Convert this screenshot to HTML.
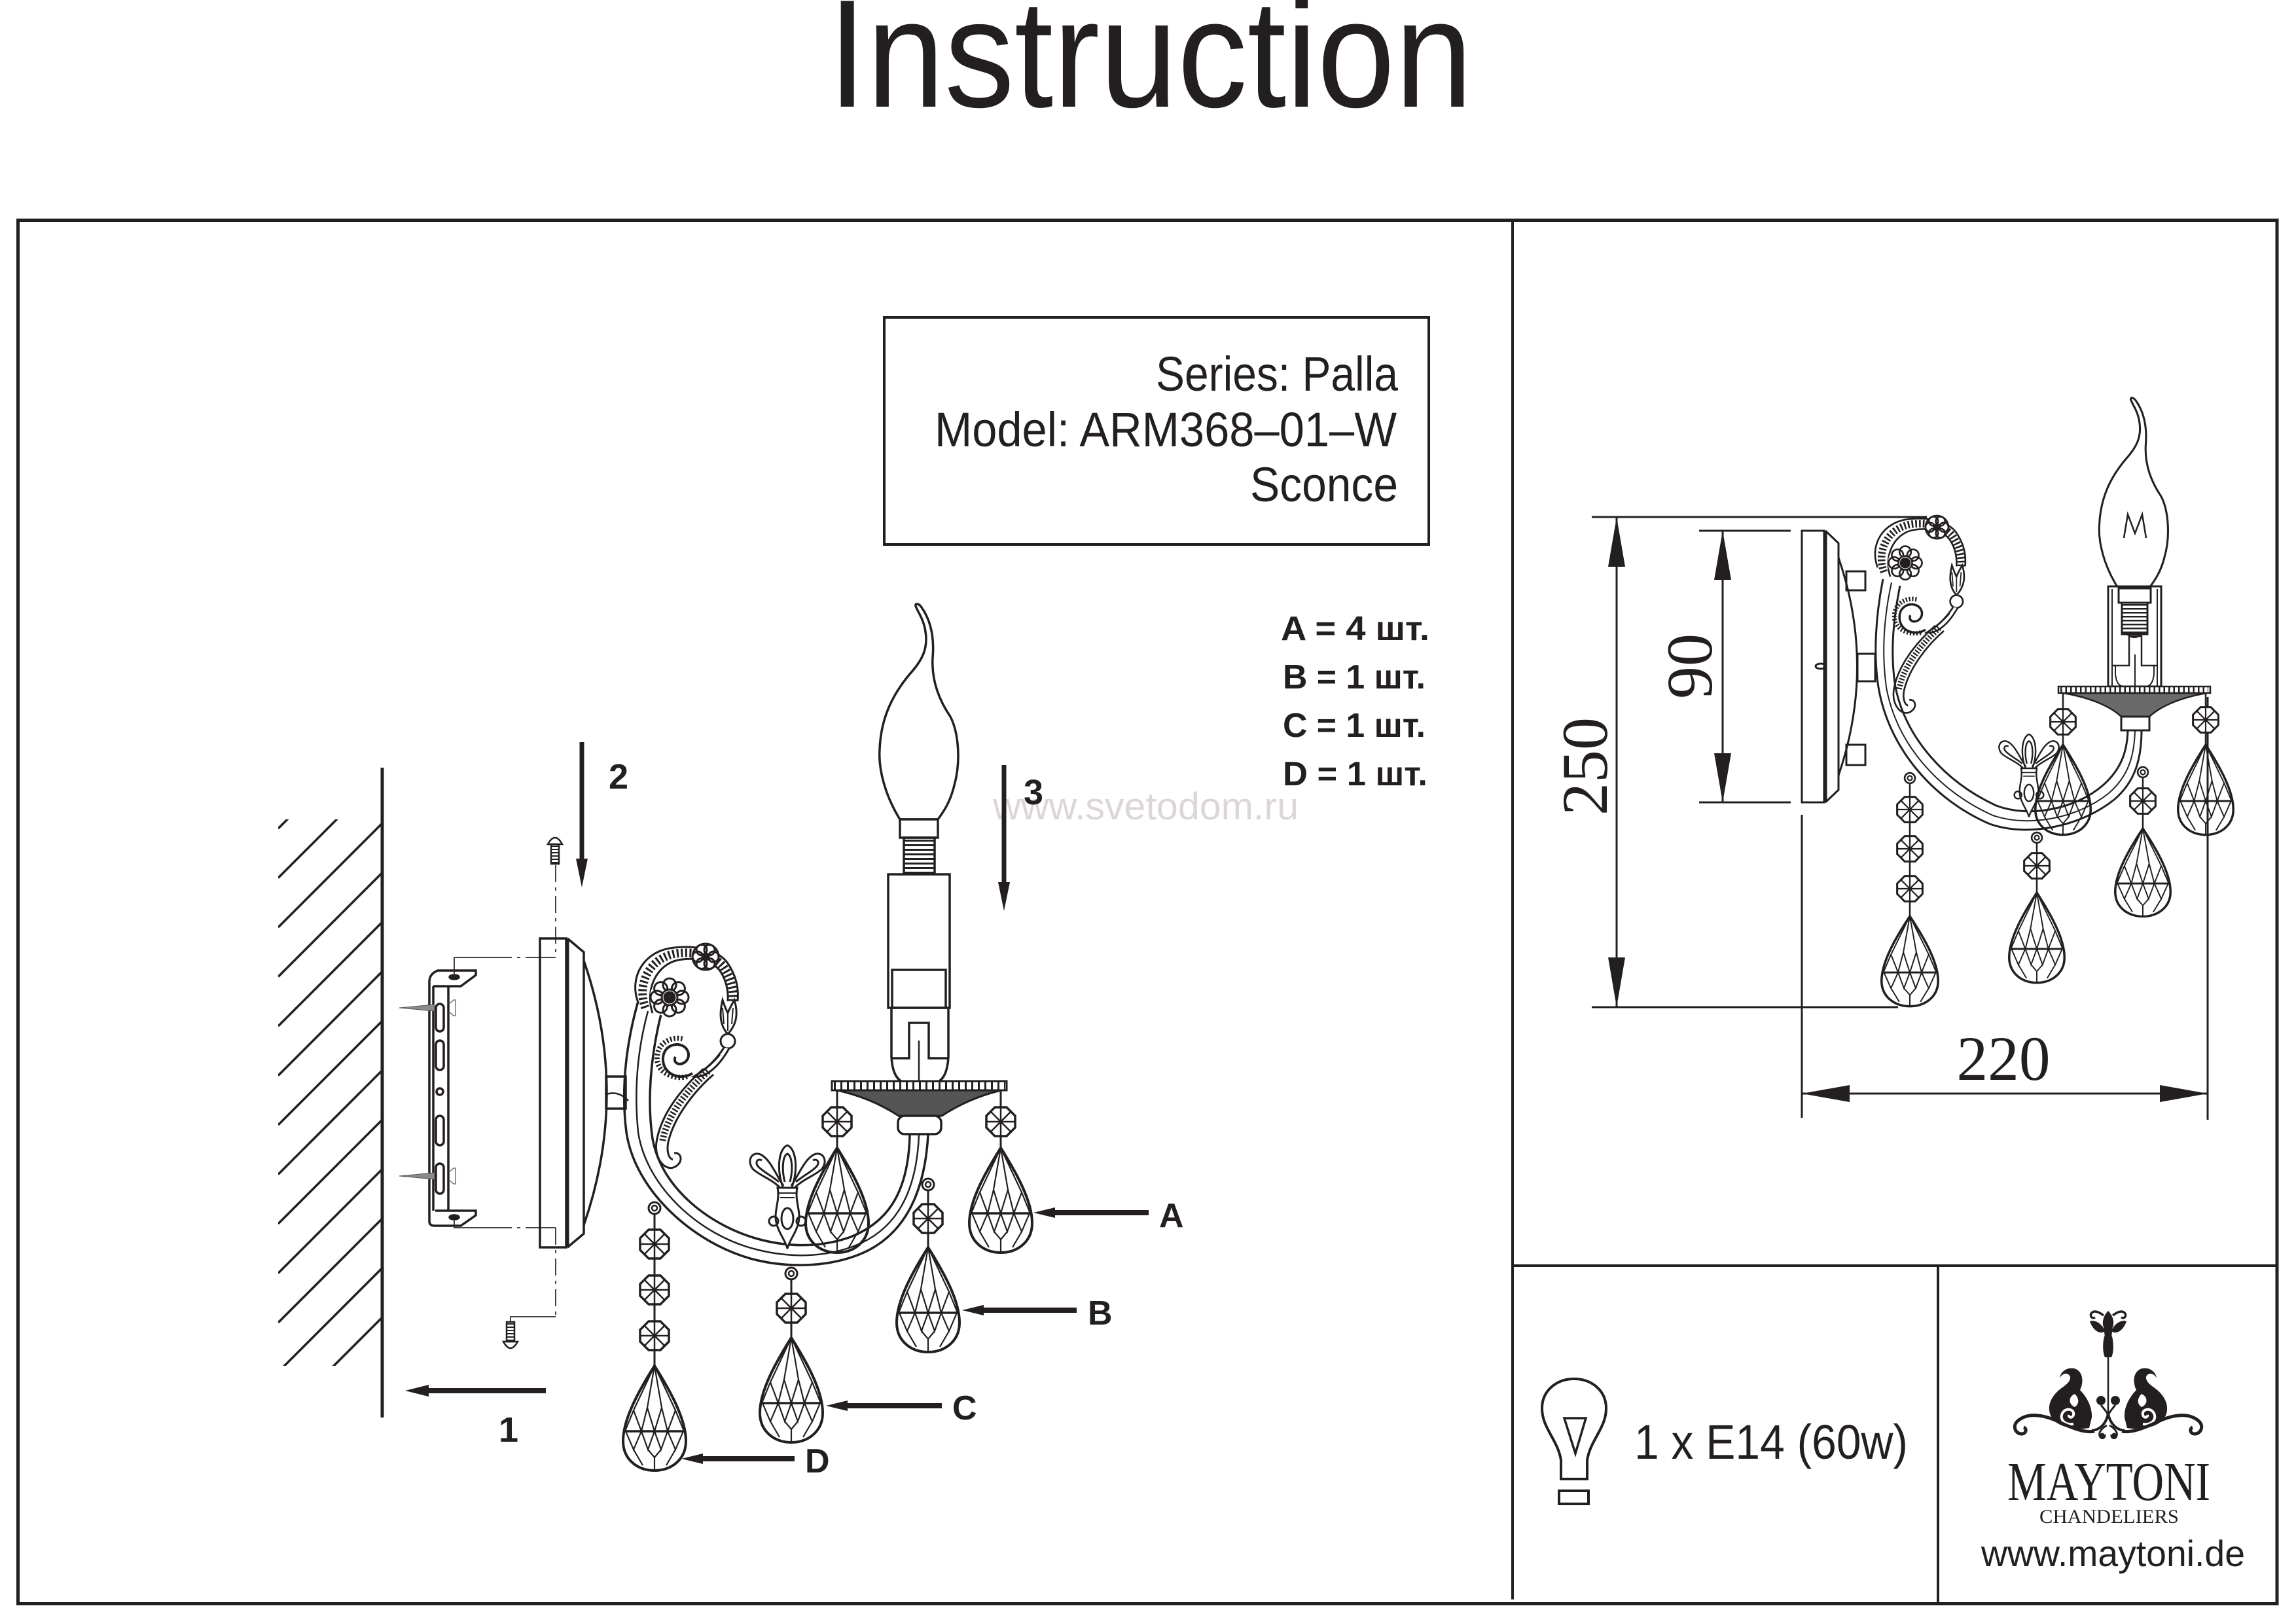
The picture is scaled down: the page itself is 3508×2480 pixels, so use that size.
<!DOCTYPE html>
<html><head><meta charset="utf-8">
<style>
html,body{margin:0;padding:0;background:#fff;width:3508px;height:2480px;overflow:hidden}
svg{display:block}
</style></head><body>
<svg xmlns="http://www.w3.org/2000/svg" width="3508" height="2480" viewBox="0 0 3508 2480">
<defs>
<clipPath id="hc"><rect x="425" y="1252" width="158" height="835"/></clipPath>
<g id="drop" fill="none" stroke="#231f20">
  <path d="M0,0 C-22,35 -48,80 -48,115 C-48,143 -26,160 0,160 C26,160 48,143 48,115 C48,80 22,35 0,0 Z" stroke-width="4"/>
  <path d="M-48,100 L48,100" stroke-width="3.5"/>
  <path d="M0,0 L-32,68 M0,0 L-11,64 M0,0 L11,64 M0,0 L32,68 M-45,100 L-32,68 L-20,100 L-11,64 L0,100 L11,64 L20,100 L32,68 L45,100 M-44,100 L-32,128 L-20,100 L-10,128 L0,100 L10,128 L20,100 L32,128 L44,100 M-32,128 L-18,152 M-10,128 L0,140 L10,128 M0,140 L0,160 M32,128 L18,152" stroke-width="2.2"/>
</g>
<g id="bead" fill="none" stroke="#231f20">
  <polygon points="22,9 9,22 -9,22 -22,9 -22,-9 -9,-22 9,-22 22,-9" stroke-width="3.5" fill="#fff"/>
  <path d="M-22,0 H22 M0,-22 V22 M-15,-15 L15,15 M15,-15 L-15,15" stroke-width="2.5"/>
</g>
<g id="eye" fill="none" stroke="#231f20">
  <circle r="9" stroke-width="3"/><circle r="4" stroke-width="2.5"/>
</g>
<path id="bulbp" fill="none" stroke="#231f20" stroke-width="3.5" d="M1375,1252 C1352,1215 1342,1175 1344,1145 C1346,1095 1365,1060 1390,1030 C1410,1008 1418,990 1414,965 C1411,945 1402,935 1399,926 C1398,921 1404,922 1408,928 C1420,945 1428,970 1425,1005 C1423,1040 1435,1070 1452,1095 C1465,1120 1468,1165 1458,1200 C1452,1225 1442,1240 1433,1252 Z"/>
<g id="scroll" fill="none" stroke="#231f20" stroke-width="3">
  <path d="M975,1532 C960,1492 985,1452 1030,1448 C1066,1444 1098,1452 1112,1472 C1124,1490 1129,1508 1127,1530"/>
  <path d="M997,1548 C985,1512 1003,1474 1036,1467 C1062,1462 1087,1468 1099,1482 C1109,1496 1113,1512 1112,1530"/>
  <path d="M986,1540 C972,1502 994,1463 1033,1457 C1064,1453 1092,1460 1105,1477 C1116,1493 1121,1510 1120,1530" stroke-width="13" stroke-dasharray="3 3.5"/>
  <circle cx="1023" cy="1524" r="30" fill="#fff" stroke="none"/>
  <circle cx="1042" cy="1524" r="10"/><circle cx="1036.4" cy="1537.4" r="10"/><circle cx="1023" cy="1543" r="10"/><circle cx="1009.6" cy="1537.4" r="10"/>
  <circle cx="1004" cy="1524" r="10"/><circle cx="1009.6" cy="1510.6" r="10"/><circle cx="1023" cy="1505" r="10"/><circle cx="1036.4" cy="1510.6" r="10"/>
  <circle cx="1023" cy="1524" r="12" fill="#fff"/>
  <circle cx="1023" cy="1524" r="8" fill="#231f20"/>
  <circle cx="1078" cy="1462" r="20" fill="#fff"/>
  <circle cx="1090" cy="1462" r="8"/><circle cx="1084" cy="1472.4" r="8"/><circle cx="1072" cy="1472.4" r="8"/><circle cx="1066" cy="1462" r="8"/><circle cx="1072" cy="1451.6" r="8"/><circle cx="1084" cy="1451.6" r="8"/>
  <circle cx="1078" cy="1462" r="5" fill="#231f20"/>
  <path d="M1112,1580 C1098,1565 1100,1545 1104,1528 C1108,1540 1112,1548 1112,1548 C1114,1542 1118,1535 1122,1528 C1128,1548 1126,1565 1112,1580 Z" fill="#fff"/>
  <path d="M1112,1575 L1112,1550 M1106,1565 L1104,1540 M1118,1565 L1120,1540" stroke-width="2"/>
  <circle cx="1112" cy="1591" r="11" fill="#fff"/>
  <path d="M1106,1601 C1095,1618 1082,1632 1060,1645 C1076,1647 1096,1634 1114,1602" fill="#fff"/>
  <path d="M1100,1612 C1090,1624 1080,1632 1070,1640" stroke-width="2"/>
  <path d="M1058,1640 C1040,1652 1014,1642 1013,1620 C1012,1600 1030,1592 1043,1598 C1055,1604 1055,1620 1043,1625 C1035,1628 1028,1622 1032,1615" stroke-width="4"/>
  <path d="M1050,1645 C1030,1650 1005,1640 1004,1618 C1003,1595 1025,1582 1045,1588" stroke-width="8" stroke-dasharray="2.5 3"/>
  <path d="M1075,1633 C1045,1660 1010,1700 1003,1745 C999,1772 1018,1792 1033,1782 C1045,1774 1040,1760 1030,1762"/>
  <path d="M1090,1642 C1062,1666 1030,1706 1021,1745 C1018,1760 1022,1770 1028,1772"/>
  <path d="M1082,1637 C1053,1663 1019,1703 1012,1745" stroke-width="10" stroke-dasharray="2.5 3"/>
</g>
<g id="fleur" fill="none" stroke="#231f20" stroke-width="3">
  <path d="M1196,1814 C1186,1785 1190,1755 1203,1750 C1216,1755 1220,1785 1210,1814"/>
  <path d="M1199,1806 C1194,1786 1196,1766 1203,1763 C1210,1766 1212,1786 1207,1806"/>
  <path d="M1193,1816 C1180,1802 1160,1796 1150,1786 C1140,1772 1150,1759 1162,1764 C1176,1771 1183,1790 1197,1812"/>
  <path d="M1190,1806 C1178,1796 1165,1790 1158,1782 C1153,1775 1158,1770 1164,1773"/>
  <path d="M1213,1816 C1226,1802 1246,1796 1256,1786 C1266,1772 1256,1759 1244,1764 C1230,1771 1223,1790 1209,1812"/>
  <path d="M1216,1806 C1228,1796 1241,1790 1248,1782 C1253,1775 1248,1770 1242,1773"/>
  <path d="M1188,1815 C1192,1835 1182,1850 1186,1868 C1190,1885 1200,1895 1203,1908 C1206,1895 1216,1885 1220,1868 C1224,1850 1214,1835 1218,1815 Z" fill="#fff"/>
  <path d="M1190,1823 L1216,1823 M1192,1830 L1214,1830" stroke-width="2"/>
  <ellipse cx="1203" cy="1862" rx="9" ry="16"/>
  <circle cx="1182" cy="1866" r="7"/><circle cx="1224" cy="1866" r="7"/>
</g>
<g id="paisley" fill="#231f20">
  <path d="M3192,2182 C3168,2186 3138,2180 3132,2160 C3127,2142 3140,2127 3154,2118 C3163,2111 3166,2104 3160,2100 C3155,2097 3149,2101 3147,2106 C3148,2096 3158,2089 3169,2091 C3183,2095 3184,2112 3178,2124 C3188,2134 3197,2150 3196,2166 Z"/>
  <path d="M3168,2176 C3152,2178 3146,2166 3152,2158 C3158,2150 3170,2154 3168,2162 C3166,2168 3160,2166 3161,2162" fill="none" stroke="#fff" stroke-width="4"/>
  <path d="M3170,2130 C3160,2134 3160,2146 3170,2150 C3176,2146 3178,2138 3170,2130 Z" fill="#fff"/>
  <path d="M3200,2187 C3185,2190 3165,2182 3140,2170 C3115,2160 3095,2160 3082,2172 C3074,2180 3080,2192 3090,2191 C3096,2190 3097,2183 3092,2181" fill="none" stroke="#231f20" stroke-width="5"/>
  <path d="M3221,2160 C3218,2176 3208,2185 3196,2186" fill="none" stroke="#231f20" stroke-width="4"/>
  <circle cx="3210" cy="2140" r="7"/>
  <path d="M3210,2147 C3214,2152 3218,2156 3221,2162" fill="none" stroke="#231f20" stroke-width="3"/>
  <path d="M3219,2178 C3212,2182 3206,2188 3208,2194 C3210,2200 3217,2198 3216,2192" fill="none" stroke="#231f20" stroke-width="3"/>
  <circle cx="3212" cy="2193" r="3.5"/>
</g>
</defs>

<rect width="3508" height="2480" fill="#fff"/>

<!-- Title -->
<text x="1265" y="163" font-family="Liberation Sans, sans-serif" font-size="235" fill="#231f20" textLength="985" lengthAdjust="spacingAndGlyphs">Instruction</text>

<!-- Frame -->
<g fill="none" stroke="#231f20">
  <rect x="27.5" y="336.5" width="3451.5" height="2114" stroke-width="5"/>
  <line x1="2311" y1="336" x2="2311" y2="2444" stroke-width="4"/>
  <line x1="2311" y1="1934" x2="3479" y2="1934" stroke-width="4"/>
  <line x1="2961" y1="1934" x2="2961" y2="2451" stroke-width="4"/>
  <rect x="1351" y="485" width="832" height="347" stroke-width="4"/>
</g>

<!-- Info text -->
<g font-family="Liberation Sans, sans-serif" fill="#231f20" text-anchor="end">
  <text x="2136" y="597" font-size="74" textLength="370" lengthAdjust="spacingAndGlyphs">Series: Palla</text>
  <text x="2134" y="682" font-size="74" textLength="706" lengthAdjust="spacingAndGlyphs">Model: ARM368–01–W</text>
  <text x="2136" y="766" font-size="74" textLength="226" lengthAdjust="spacingAndGlyphs">Sconce</text>
</g>
<g font-family="Liberation Sans, sans-serif" font-weight="bold" fill="#231f20" font-size="52">
  <text x="1957" y="978" textLength="227" lengthAdjust="spacingAndGlyphs">A = 4 шт.</text>
  <text x="1960" y="1052" textLength="218" lengthAdjust="spacingAndGlyphs">B = 1 шт.</text>
  <text x="1960" y="1126" textLength="218" lengthAdjust="spacingAndGlyphs">C = 1 шт.</text>
  <text x="1960" y="1200" textLength="221" lengthAdjust="spacingAndGlyphs">D = 1 шт.</text>
</g>

<!-- Watermark -->
<text x="1517" y="1252" font-family="Liberation Sans, sans-serif" font-size="58" fill="#dcd6d6" textLength="467" lengthAdjust="spacingAndGlyphs">www.svetodom.ru</text>

<!-- ================= LEFT ASSEMBLY ================= -->
<g stroke="#231f20" fill="none">
  <line x1="584" y1="1173" x2="584" y2="2166" stroke-width="5"/>
  <g clip-path="url(#hc)" stroke-width="3.5">
    <line x1="425" y1="1266" x2="583" y2="1108"/>
    <line x1="425" y1="1341.5" x2="583" y2="1183.5"/>
    <line x1="425" y1="1417" x2="583" y2="1259"/>
    <line x1="425" y1="1492.5" x2="583" y2="1334.5"/>
    <line x1="425" y1="1568" x2="583" y2="1410"/>
    <line x1="425" y1="1643.5" x2="583" y2="1485.5"/>
    <line x1="425" y1="1719" x2="583" y2="1561"/>
    <line x1="425" y1="1794.5" x2="583" y2="1636.5"/>
    <line x1="425" y1="1870" x2="583" y2="1712"/>
    <line x1="425" y1="1945.5" x2="583" y2="1787.5"/>
    <line x1="425" y1="2021" x2="583" y2="1863"/>
    <line x1="425" y1="2096.5" x2="583" y2="1938.5"/>
    <line x1="425" y1="2172" x2="583" y2="2014"/>
  </g>
</g>

<!-- Arrows 1,2,3 -->
<g fill="#231f20" stroke="#231f20">
  <line x1="889" y1="1134" x2="889" y2="1318" stroke-width="7"/>
  <polygon points="880,1312 898,1312 889,1356" stroke="none"/>
  <line x1="1534" y1="1169" x2="1534" y2="1352" stroke-width="7"/>
  <polygon points="1525,1348 1543,1348 1534,1392" stroke="none"/>
  <line x1="834" y1="2125" x2="650" y2="2125" stroke-width="8"/>
  <polygon points="655,2116 655,2134 619,2125" stroke="none"/>
</g>
<g font-family="Liberation Sans, sans-serif" font-weight="bold" fill="#231f20" font-size="54">
  <text x="930" y="1205">2</text>
  <text x="1564" y="1229">3</text>
  <text x="762" y="2203">1</text>
</g>

<!-- dashed assembly lines -->
<g stroke="#444" stroke-width="2" fill="none">
  <path d="M849,1322 L849,1463" stroke-dasharray="26 8 5 8"/>
  <path d="M694,1488 L694,1463 L756,1463"/>
  <path d="M756,1463 L825,1463" stroke-dasharray="26 8 5 8"/>
  <path d="M825,1463 L849,1463"/>
  <path d="M694,1862 L694,1876 L756,1876"/>
  <path d="M756,1876 L825,1876" stroke-dasharray="26 8 5 8"/>
  <path d="M825,1876 L849,1876"/>
  <path d="M849,1876 L849,2012" stroke-dasharray="26 8 5 8"/>
  <path d="M849,2012 L780,2012 L780,2022"/>
</g>
<!-- machine screws -->
<g stroke="#231f20" fill="#fff" stroke-width="2.5">
  <path d="M837,1290 Q848,1270 859,1290 Z"/>
  <rect x="842" y="1290" width="12" height="30"/>
  <line x1="848" y1="1292" x2="848" y2="1319" stroke-width="11" stroke-dasharray="2 3"/>
  <path d="M769,2050 Q780,2070 791,2050 Z"/>
  <rect x="774" y="2020" width="12" height="30"/>
  <line x1="780" y1="2022" x2="780" y2="2049" stroke-width="11" stroke-dasharray="2 3"/>
</g>
<!-- bracket -->
<g stroke="#231f20" fill="none" stroke-width="3.5">
  <path d="M662,1507 L662,1850 M685,1507 L685,1850"/>
  <path d="M656,1866 L656,1500 Q656,1488 669,1483 L727,1483 L727,1490 L704,1507 L662,1507"/>
  <path d="M656,1866 Q656,1873 664,1873 L704,1873 L727,1857 L727,1850 L665,1850"/>
  <ellipse cx="694" cy="1493" rx="7" ry="3" fill="#231f20"/>
  <ellipse cx="694" cy="1860" rx="7" ry="3" fill="#231f20"/>
  <rect x="666" y="1534" width="12" height="42" rx="6"/>
  <rect x="666" y="1590" width="12" height="45" rx="6"/>
  <circle cx="672" cy="1668" r="5"/>
  <rect x="666" y="1705" width="12" height="45" rx="6"/>
  <rect x="666" y="1778" width="12" height="46" rx="6"/>
</g>
<g>
  <polygon points="610,1540 664,1535 664,1545" fill="#8a8a8a" stroke="#555" stroke-width="1"/>
  <polygon points="610,1797 664,1792 664,1802" fill="#8a8a8a" stroke="#555" stroke-width="1"/>
  <path d="M686,1534 L693,1528 L696,1528 L696,1552 L693,1552 L686,1546" fill="none" stroke="#777" stroke-width="1.5"/>
  <path d="M686,1791 L693,1785 L696,1785 L696,1809 L693,1809 L686,1803" fill="none" stroke="#777" stroke-width="1.5"/>
</g>

<!-- back plate center -->
<g stroke="#231f20" fill="none" stroke-width="3.5">
  <rect x="825" y="1434" width="40" height="472"/>
  <line x1="867" y1="1434" x2="867" y2="1906" stroke-width="5"/>
  <path d="M867,1434 L892,1455 L892,1885 L867,1906"/>
  <path d="M892,1468 Q962,1670 892,1872"/>
  <rect x="926" y="1645" width="30" height="49"/>
  <path d="M927,1672 Q945,1666 960,1682" stroke-width="2.5"/>
</g>

<!-- center arm -->
<g stroke="#231f20" fill="none" stroke-width="3.5">
  <path d="M975,1530 C958,1590 948,1660 957,1730 C970,1820 1060,1900 1150,1924 C1200,1937 1260,1937 1310,1918 C1370,1895 1412,1840 1418,1734"/>
  <path d="M990,1545 C975,1600 968,1660 975,1730 C988,1815 1070,1888 1155,1909 C1205,1922 1258,1922 1305,1904 C1360,1883 1400,1835 1404,1734" stroke-width="2.5"/>
  <path d="M1010,1550 C995,1610 988,1680 997,1740 C1010,1815 1085,1875 1165,1895 C1210,1906 1255,1906 1300,1890 C1350,1870 1388,1830 1390,1734"/>
</g>
<use href="#scroll"/>
<use href="#fleur"/>

<!-- center candle -->
<use href="#bulbp"/>
<g stroke="#231f20" fill="none" stroke-width="3.5">
  <rect x="1375" y="1252" width="58" height="28" fill="#fff"/>
  <rect x="1381" y="1280" width="47" height="54"/>
  <line x1="1404.5" y1="1283" x2="1404.5" y2="1334" stroke-width="44" stroke-dasharray="3 4"/>
  <path d="M1390,1334 Q1404,1346 1418,1334"/>
  <rect x="1357" y="1336" width="94" height="204" fill="#fff"/>
  <rect x="1363" y="1482" width="82" height="58"/>
  <path d="M1362,1540 L1362,1615 Q1364,1652 1385,1655 L1427,1655 Q1447,1652 1449,1615 L1449,1540"/>
  <path d="M1362,1617 L1389,1617 L1389,1563 L1419,1563 L1419,1617 L1449,1617"/>
  <line x1="1404" y1="1590" x2="1404" y2="1665" stroke-width="2.5"/>
</g>
<!-- center bobeche -->
<g stroke="#231f20">
  <path d="M1279,1666 C1320,1675 1350,1690 1373,1705 L1439,1705 C1462,1690 1492,1675 1530,1666 Z" fill="#555" stroke-width="3"/>
  <rect x="1271" y="1652" width="267" height="14" fill="#fff" stroke-width="3"/>
  <line x1="1274" y1="1659" x2="1536" y2="1659" stroke-width="11" stroke-dasharray="3 7"/>
  <rect x="1372" y="1705" width="66" height="28" rx="10" fill="#fff" stroke-width="3.5"/>
</g>

<!-- center crystals -->
<g stroke="#231f20" stroke-width="3" fill="none">
  <line x1="1279" y1="1666" x2="1279" y2="1756"/>
  <line x1="1529" y1="1666" x2="1529" y2="1756"/>
  <line x1="1418" y1="1819" x2="1418" y2="1908"/>
  <line x1="1209" y1="1955" x2="1209" y2="2046"/>
  <line x1="1000" y1="1855" x2="1000" y2="2089"/>
</g>
<use href="#bead" x="1279" y="1714"/>
<use href="#drop" x="1279" y="1754"/>
<use href="#bead" x="1529" y="1714"/>
<use href="#drop" x="1529" y="1754"/>
<use href="#eye" x="1418" y="1810"/>
<use href="#bead" x="1418" y="1862"/>
<use href="#drop" x="1418" y="1906"/>
<use href="#eye" x="1209" y="1946"/>
<use href="#bead" x="1209" y="1999"/>
<use href="#drop" x="1209" y="2044"/>
<use href="#eye" x="1000" y="1846"/>
<use href="#bead" x="1000" y="1901"/>
<use href="#bead" x="1000" y="1971"/>
<use href="#bead" x="1000" y="2041"/>
<use href="#drop" x="1000" y="2087"/>

<!-- label arrows -->
<g fill="#231f20" stroke="#231f20">
  <line x1="1755" y1="1853" x2="1606" y2="1853" stroke-width="8"/>
  <polygon points="1579,1853 1612,1845 1612,1861" stroke="none"/>
  <line x1="1645" y1="2002" x2="1497" y2="2002" stroke-width="8"/>
  <polygon points="1470,2002 1503,1994 1503,2010" stroke="none"/>
  <line x1="1439" y1="2148" x2="1289" y2="2148" stroke-width="8"/>
  <polygon points="1262,2148 1295,2140 1295,2156" stroke="none"/>
  <line x1="1214" y1="2229" x2="1068" y2="2229" stroke-width="8"/>
  <polygon points="1041,2229 1074,2221 1074,2237" stroke="none"/>
</g>
<g font-family="Liberation Sans, sans-serif" font-weight="bold" fill="#231f20" font-size="52">
  <text x="1771" y="1875">A</text>
  <text x="1662" y="2024">B</text>
  <text x="1455" y="2169">C</text>
  <text x="1230" y="2250">D</text>
</g>

<!-- ================= RIGHT PANEL ================= -->
<g stroke="#231f20" fill="none" stroke-width="3">
  <line x1="2432" y1="790" x2="2944" y2="790"/>
  <line x1="2432" y1="1539" x2="2900" y2="1539"/>
  <line x1="2470" y1="790" x2="2470" y2="1539"/>
  <line x1="2596" y1="811" x2="2736" y2="811"/>
  <line x1="2596" y1="1226" x2="2736" y2="1226"/>
  <line x1="2632" y1="811" x2="2632" y2="1226"/>
  <line x1="2753" y1="1245" x2="2753" y2="1708"/>
  <line x1="3373" y1="1065" x2="3373" y2="1711"/>
  <line x1="2753" y1="1671" x2="3373" y2="1671"/>
</g>
<g fill="#231f20">
  <polygon points="2470,790 2457,866 2483,866"/>
  <polygon points="2470,1539 2457,1463 2483,1463"/>
  <polygon points="2632,811 2619,886 2645,886"/>
  <polygon points="2632,1226 2619,1151 2645,1151"/>
  <polygon points="2753,1671 2826,1658 2826,1684"/>
  <polygon points="3373,1671 3300,1658 3300,1684"/>
</g>
<g font-family="Liberation Serif, serif" fill="#231f20" font-size="100" text-anchor="middle">
  <text transform="translate(2455,1171) rotate(-90)" textLength="150" lengthAdjust="spacingAndGlyphs">250</text>
  <text transform="translate(2615,1018) rotate(-90)" textLength="100" lengthAdjust="spacingAndGlyphs">90</text>
  <text x="3061" y="1650" font-size="96" textLength="143" lengthAdjust="spacingAndGlyphs">220</text>
</g>

<!-- right plate -->
<g stroke="#231f20" fill="none" stroke-width="3">
  <rect x="2753" y="811" width="34" height="415"/>
  <line x1="2789" y1="811" x2="2789" y2="1226" stroke-width="5"/>
  <path d="M2789,811 L2809,830 L2809,1207 L2789,1226"/>
  <path d="M2809,852 Q2866,1018 2809,1185"/>
  <ellipse cx="2782" cy="1018" rx="8" ry="4"/>
  <rect x="2821" y="873" width="29" height="29"/>
  <rect x="2821" y="1138" width="29" height="31"/>
  <rect x="2838" y="999" width="27" height="42"/>
</g>
<!-- right arm -->
<g stroke="#231f20" fill="none" stroke-width="3">
  <path d="M2877,885 C2866,940 2862,1000 2870,1050 C2885,1140 2950,1220 3040,1259 C3100,1280 3180,1262 3230,1222 C3262,1195 3272,1160 3272,1116"/>
  <path d="M2890,890 C2878,945 2875,1000 2882,1050 C2897,1135 2960,1208 3045,1246 C3100,1265 3175,1250 3222,1212 C3252,1186 3261,1155 3262,1116" stroke-width="2"/>
  <path d="M2903,895 C2892,950 2888,1000 2896,1050 C2912,1128 2972,1195 3050,1231 C3100,1250 3170,1237 3213,1200 C3240,1176 3250,1150 3251,1116"/>
</g>
<use href="#scroll" transform="translate(2911,861) scale(0.88) translate(-1023,-1525)"/>
<use href="#fleur" transform="translate(3100,1122) scale(0.8) translate(-1203,-1750)"/>

<!-- right candle -->
<use href="#bulbp" transform="translate(3260,896) scale(0.875) translate(-1404,-1252)"/>
<polyline points="3245,822 3251,786 3262,815 3273,786 3279,822" fill="none" stroke="#231f20" stroke-width="2.5"/>
<g stroke="#231f20" fill="none" stroke-width="3">
  <rect x="3221" y="896" width="81" height="153" fill="#fff"/>
  <line x1="3227" y1="900" x2="3227" y2="1049" stroke-width="2"/>
  <line x1="3296" y1="900" x2="3296" y2="1049" stroke-width="2"/>
  <rect x="3237" y="899" width="49" height="22"/>
  <rect x="3242" y="921" width="39" height="48"/>
  <line x1="3261.5" y1="923" x2="3261.5" y2="969" stroke-width="36" stroke-dasharray="2.5 3.5"/>
  <path d="M3250,969 Q3261,978 3272,969"/>
  <path d="M3227,1017 L3253,1017 L3253,972 L3272,972 L3272,1017 L3296,1017" stroke-width="2.5"/>
  <path d="M3232,1017 L3232,1030 Q3234,1049 3245,1049 M3291,1017 L3291,1030 Q3289,1049 3278,1049" stroke-width="2"/>
  <line x1="3262" y1="1000" x2="3262" y2="1060" stroke-width="2"/>
</g>
<g stroke="#231f20">
  <path d="M3152,1059 C3195,1066 3225,1080 3241,1095 L3284,1095 C3300,1080 3330,1066 3372,1059 Z" fill="#6a6a6a" stroke-width="2.5"/>
  <rect x="3145" y="1049" width="232" height="10" fill="#fff" stroke-width="2.5"/>
  <line x1="3148" y1="1054" x2="3374" y2="1054" stroke-width="8" stroke-dasharray="2.5 5"/>
  <rect x="3241" y="1095" width="43" height="21" fill="#fff" stroke-width="3"/>
</g>

<!-- right crystals -->
<g stroke="#231f20" stroke-width="2.5" fill="none">
  <line x1="3152" y1="1059" x2="3152" y2="1140"/>
  <line x1="3370" y1="1059" x2="3370" y2="1140"/>
  <line x1="3274" y1="1188" x2="3274" y2="1268"/>
  <line x1="3112" y1="1288" x2="3112" y2="1366"/>
  <line x1="2918" y1="1197" x2="2918" y2="1402"/>
</g>
<g transform="translate(3152,1103) scale(0.88)"><use href="#bead"/></g>
<g transform="translate(3152,1138) scale(0.88,0.86)"><use href="#drop"/></g>
<g transform="translate(3370,1100) scale(0.88)"><use href="#bead"/></g>
<g transform="translate(3370,1138) scale(0.88,0.86)"><use href="#drop"/></g>
<g transform="translate(3274,1180) scale(0.88)"><use href="#eye"/></g>
<g transform="translate(3274,1224) scale(0.88)"><use href="#bead"/></g>
<g transform="translate(3274,1266) scale(0.88,0.84)"><use href="#drop"/></g>
<g transform="translate(3112,1280) scale(0.88)"><use href="#eye"/></g>
<g transform="translate(3112,1323) scale(0.88)"><use href="#bead"/></g>
<g transform="translate(3112,1364) scale(0.88,0.86)"><use href="#drop"/></g>
<g transform="translate(2918,1189) scale(0.88)"><use href="#eye"/></g>
<g transform="translate(2918,1237) scale(0.88)"><use href="#bead"/></g>
<g transform="translate(2918,1297) scale(0.88)"><use href="#bead"/></g>
<g transform="translate(2918,1358) scale(0.88)"><use href="#bead"/></g>
<g transform="translate(2918,1400) scale(0.9,0.86)"><use href="#drop"/></g>

<!-- ================= BOTTOM PANELS ================= -->
<g stroke="#231f20" fill="none" stroke-width="4">
  <path d="M2385,2231 C2380,2200 2356,2182 2356,2152 C2356,2125 2378,2107 2405,2107 C2432,2107 2454,2125 2454,2152 C2454,2182 2430,2200 2425,2231 L2425,2260 L2385,2260 Z"/>
  <polygon points="2390,2167 2423,2167 2407,2221" stroke-width="3.5"/>
  <rect x="2382" y="2278" width="45" height="20"/>
</g>
<text x="2497" y="2229" font-family="Liberation Sans, sans-serif" font-size="74" fill="#231f20" textLength="418" lengthAdjust="spacingAndGlyphs">1 x E14 (60w)</text>

<!-- Maytoni logo -->
<g fill="#231f20">
  <!-- top flower -->
  <path d="M3221,2003 C3214,2010 3211,2020 3214,2028 L3228,2028 C3231,2020 3228,2010 3221,2003 Z"/>
  <path d="M3193,2019 C3200,2016 3212,2022 3216,2034 C3210,2040 3198,2034 3193,2019 Z"/>
  <path d="M3249,2019 C3242,2016 3230,2022 3226,2034 C3232,2040 3244,2034 3249,2019 Z"/>
  <path d="M3214,2026 L3228,2026 L3226,2044 L3216,2044 Z"/>
  <path d="M3215,2042 C3212,2055 3213,2068 3216,2074 L3226,2074 C3229,2068 3230,2055 3227,2042 Z"/>
  <line x1="3221" y1="2072" x2="3221" y2="2168" stroke="#231f20" stroke-width="2.5"/>
  <path d="M3214,2010 C3206,2004 3200,2002 3196,2006 C3192,2010 3196,2016 3201,2013" fill="none" stroke="#231f20" stroke-width="3.5"/>
  <path d="M3228,2010 C3236,2004 3242,2002 3246,2006 C3250,2010 3246,2016 3241,2013" fill="none" stroke="#231f20" stroke-width="3.5"/>
</g>
<use href="#paisley"/>
<use href="#paisley" transform="translate(6442,0) scale(-1,1)"/>

<text x="3067" y="2292" font-family="Liberation Serif, serif" font-size="84" fill="#231f20" textLength="310" lengthAdjust="spacingAndGlyphs">MAYTONI</text>
<text x="3116" y="2327" font-family="Liberation Serif, serif" font-size="30" fill="#231f20" textLength="213" lengthAdjust="spacingAndGlyphs">CHANDELIERS</text>
<text x="3027" y="2393" font-family="Liberation Sans, sans-serif" font-size="56" fill="#231f20" textLength="403" lengthAdjust="spacingAndGlyphs">www.maytoni.de</text>
</svg>
</body></html>
